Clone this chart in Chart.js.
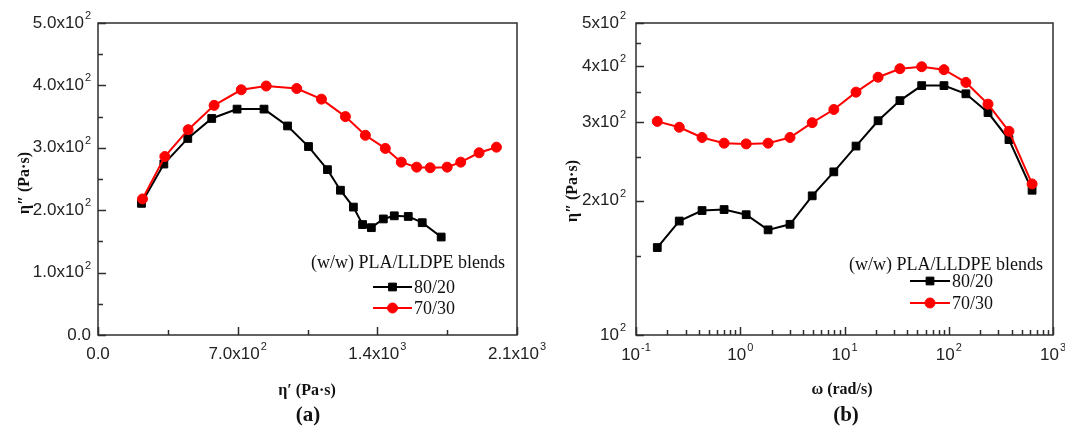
<!DOCTYPE html>
<html>
<head>
<meta charset="utf-8">
<script src="https://cdn.jsdelivr.net/npm/chart.js@4.4.0/dist/chart.umd.min.js"></script>
<style>
  body { margin: 0; background: #fff; }
  #wrap { position: relative; width: 1065px; height: 429px; overflow: hidden; }
  canvas { position: absolute; top: 0; }
  #cvA { left: 0; }
  #cvB { left: 532px; }
</style>
</head>
<body>
<div id="wrap">
  <canvas id="cvA" width="565" height="429"></canvas>
  <canvas id="cvB" width="533" height="429"></canvas>
</div>
<script>
// frequency sweep (rad/s), one entry per measured point
const omega = [0.16, 0.26, 0.43, 0.70, 1.14, 1.85, 3.0, 4.9, 7.9, 12.9, 21, 34, 55, 90, 146, 238, 378, 630];

// 80/20 blend: storage part eta' and loss part eta'' (Pa.s)
const etaP8020 = [1720, 1625, 1555, 1485, 1430, 1370, 1326, 1280, 1215, 1150, 1055, 950, 832, 697, 570, 450, 330, 218];
const etaPP8020 = [157, 180, 190, 191, 186, 172, 177, 205, 232, 265, 302, 335, 362, 362, 347, 315, 274, 211];

// 70/30 blend
const etaP7030 = [1997, 1910, 1818, 1750, 1665, 1597, 1520, 1440, 1340, 1240, 1120, 996, 843, 718, 582, 452, 335, 223];
const etaPP7030 = [301, 292, 277, 269, 268, 269, 277, 299, 320, 350, 378, 395, 399, 393, 368, 329, 286, 218];

const seriesNames = ['80/20', '70/30'];
const legendTitle = '(w/w) PLA/LLDPE blends';

// tick values and labels ("base^exponent")
const coleXTicks = [0, 700, 1400, 2100];
const coleXLabels = ['0.0', '7.0x10^2', '1.4x10^3', '2.1x10^3'];
const coleXMinor = [350, 1050, 1750];
const coleYTicks = [0, 100, 200, 300, 400, 500];
const coleYLabels = ['0.0', '1.0x10^2', '2.0x10^2', '3.0x10^2', '4.0x10^2', '5.0x10^2'];
const coleYMinor = [50, 150, 250, 350, 450];

const freqXTicks = [0.1, 1, 10, 100, 1000];
const freqXLabels = ['10^-1', '10^0', '10^1', '10^2', '10^3'];
const freqYTicks = [100, 200, 300, 400, 500];
const freqYLabels = ['10^2', '2x10^2', '3x10^2', '4x10^2', '5x10^2'];
const freqYMinor = [150, 250, 350, 450];
const freqXMinor = [];
[0.1, 1, 10, 100].forEach(d => { for (let k = 2; k <= 9; k++) freqXMinor.push(d * k); });

const SANS = '"Liberation Sans", Arial, sans-serif';
const SERIF = '"Liberation Serif", "Times New Roman", serif';

function sciLabel(ctx, text, x, y, align) {
  const parts = text.split('^');
  const base = parts[0], exp = parts[1];
  ctx.font = '17px ' + SANS;
  const wb = ctx.measureText(base).width;
  ctx.font = '11px ' + SANS;
  const we = exp ? ctx.measureText(exp).width + 1 : 0;
  const w = wb + we;
  const x0 = align === 'right' ? x - w : x - w / 2;
  ctx.textAlign = 'left';
  ctx.textBaseline = 'middle';
  ctx.font = '17px ' + SANS;
  ctx.fillText(base, x0, y);
  if (exp) {
    ctx.font = '11px ' + SANS;
    ctx.fillText(exp, x0 + wb + 1, y - 7);
  }
}

// frame, inward ticks, tick labels, titles and legend for one panel
function panelDecor(cfg) {
  return {
    id: 'panelDecor',
    beforeDatasetsDraw(chart) {
      const { ctx, chartArea: a } = chart;
      const x = chart.scales.x, y = chart.scales.y;
      ctx.save();
      ctx.strokeStyle = '#2e2e2e';
      ctx.lineWidth = 1.5;
      ctx.strokeRect(a.left, a.top, a.right - a.left, a.bottom - a.top);
      ctx.beginPath();
      const tickX = (vals, len) => vals.forEach(v => {
        const px = Math.round(x.getPixelForValue(v)) + 0.5;
        ctx.moveTo(px, a.bottom); ctx.lineTo(px, a.bottom - len);
      });
      const tickY = (vals, len) => vals.forEach(v => {
        const py = Math.round(y.getPixelForValue(v)) + 0.5;
        ctx.moveTo(a.left, py); ctx.lineTo(a.left + len, py);
      });
      tickX(cfg.xTicks, 8); tickX(cfg.xMinor, 5);
      tickY(cfg.yTicks, 8); tickY(cfg.yMinor, 5);
      ctx.stroke();
      ctx.restore();
    },
    afterDraw(chart) {
      const { ctx, chartArea: a } = chart;
      const x = chart.scales.x, y = chart.scales.y;
      ctx.save();
      ctx.fillStyle = '#222';
      cfg.xTicks.forEach((v, i) => sciLabel(ctx, cfg.xLabels[i], x.getPixelForValue(v), cfg.xLabelY, 'center'));
      cfg.yTicks.forEach((v, i) => sciLabel(ctx, cfg.yLabels[i], a.left - cfg.yGap, y.getPixelForValue(v), 'right'));

      ctx.fillStyle = '#111';
      ctx.textAlign = 'center';
      ctx.textBaseline = 'middle';
      ctx.font = 'bold 16px ' + SERIF;
      ctx.fillText(cfg.xTitle, cfg.xTitlePos[0], cfg.xTitlePos[1]);
      ctx.save();
      ctx.translate(cfg.yTitlePos[0], cfg.yTitlePos[1]);
      ctx.rotate(-Math.PI / 2);
      ctx.fillText(cfg.yTitle, 0, 0);
      ctx.restore();
      ctx.font = 'bold 21px ' + SERIF;
      ctx.fillText(cfg.tag, cfg.tagPos[0], cfg.tagPos[1]);

      // legend
      const L = cfg.legend;
      ctx.font = '18px ' + SERIF;
      ctx.textAlign = 'right';
      ctx.fillText(legendTitle, L.titleRight, L.titleY);
      ctx.textAlign = 'left';
      chart.data.datasets.forEach((ds, i) => {
        const ly = L.rows[i];
        ctx.strokeStyle = ds.borderColor;
        ctx.lineWidth = ds.borderWidth;
        ctx.beginPath();
        ctx.moveTo(L.lineX[0], ly); ctx.lineTo(L.lineX[1], ly);
        ctx.stroke();
        ctx.fillStyle = ds.pointBackgroundColor;
        ctx.strokeStyle = ds.pointBorderColor;
        ctx.lineWidth = ds.pointBorderWidth;
        Chart.helpers.drawPoint(ctx, { pointStyle: ds.pointStyle, radius: ds.pointRadius, rotation: 0, borderWidth: ds.pointBorderWidth }, (L.lineX[0] + L.lineX[1]) / 2, ly);
        ctx.fillStyle = '#111';
        ctx.fillText(ds.label, L.lineX[1] + 2, ly + 1);
      });
      ctx.restore();
    }
  };
}

function makeDatasets(xa, xb) {
  return [
    {
      label: seriesNames[0],
      data: xa.map((v, i) => ({ x: v, y: etaPP8020[i] })),
      borderColor: '#000', backgroundColor: '#000', borderWidth: 2,
      pointStyle: 'rect', pointRadius: 5.5, pointBackgroundColor: '#000',
      pointBorderColor: '#000', pointBorderWidth: 1, order: 1
    },
    {
      label: seriesNames[1],
      data: xb.map((v, i) => ({ x: v, y: etaPP7030[i] })),
      borderColor: '#ff0000', backgroundColor: '#ff0000', borderWidth: 2,
      pointStyle: 'circle', pointRadius: 5, pointBackgroundColor: '#ff0000',
      pointBorderColor: '#ff0000', pointBorderWidth: 1, order: 0
    }
  ];
}

function hiddenScale(extra, fit) {
  return Object.assign({
    ticks: { display: false },
    grid: { display: false },
    border: { display: false },
    afterFit: fit
  }, extra);
}

function baseOptions(padRight, xScale, yScale) {
  return {
    responsive: false,
    animation: false,
    events: [],
    layout: { padding: { top: 23, right: padRight, left: 0, bottom: 0 } },
    plugins: { legend: { display: false }, tooltip: { enabled: false } },
    scales: { x: xScale, y: yScale }
  };
}

// (a) Cole-Cole style plot: eta'' against eta'
new Chart(document.getElementById('cvA'), {
  type: 'line',
  data: { datasets: makeDatasets(etaP8020, etaP7030) },
  options: baseOptions(48,
    hiddenScale({ type: 'linear', min: 0, max: 2100 }, s => { s.height = 94; }),
    hiddenScale({ type: 'linear', min: 0, max: 500 }, s => { s.width = 98; })
  ),
  plugins: [panelDecor({
    xTicks: coleXTicks, xLabels: coleXLabels, xMinor: coleXMinor,
    yTicks: coleYTicks, yLabels: coleYLabels, yMinor: coleYMinor,
    xLabelY: 354, yGap: 7,
    xTitle: 'η′ (Pa·s)', xTitlePos: [307, 391],
    yTitle: 'η″ (Pa·s)', yTitlePos: [25, 183],
    tag: '(a)', tagPos: [308, 416],
    legend: { titleRight: 505, titleY: 263, lineX: [373, 412], rows: [287, 308] }
  })]
});

// (b) eta'' against angular frequency, log-log
new Chart(document.getElementById('cvB'), {
  type: 'line',
  data: { datasets: makeDatasets(omega, omega) },
  options: baseOptions(12,
    hiddenScale({ type: 'logarithmic', min: 0.1, max: 1000 }, s => { s.height = 94; }),
    hiddenScale({ type: 'logarithmic', min: 100, max: 500 }, s => { s.width = 104; })
  ),
  plugins: [panelDecor({
    xTicks: freqXTicks, xLabels: freqXLabels, xMinor: freqXMinor,
    yTicks: freqYTicks, yLabels: freqYLabels, yMinor: freqYMinor,
    xLabelY: 355, yGap: 10,
    xTitle: 'ω (rad/s)', xTitlePos: [310, 390],
    yTitle: 'η″ (Pa·s)', yTitlePos: [41, 191],
    tag: '(b)', tagPos: [314, 416],
    legend: { titleRight: 511, titleY: 265, lineX: [378, 418], rows: [281, 303] }
  })]
});
</script>
</body>
</html>
